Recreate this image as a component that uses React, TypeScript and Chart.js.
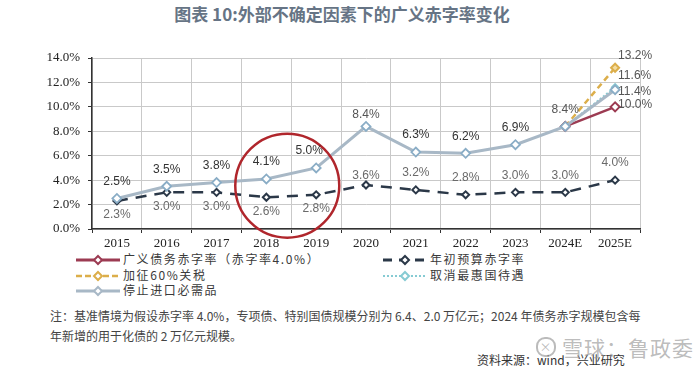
import React, { useEffect, useRef } from "react";
import { Chart, registerables } from "chart.js";

Chart.register(...registerables);

const categories = ["2015", "2016", "2017", "2018", "2019", "2020", "2021", "2022", "2023", "2024E", "2025E"];
const stopImports = [2.5, 3.5, 3.8, 4.1, 5.0, 8.4, 6.3, 6.2, 6.9, 8.4, 11.4];
const budgetDeficit = [2.3, 3.0, 3.0, 2.6, 2.8, 3.6, 3.2, 2.8, 3.0, 3.0, 4.0];
const broadDeficit = [null, null, null, null, null, null, null, null, null, 8.4, 10.0];
const tariff60 = [null, null, null, null, null, null, null, null, null, 8.4, 13.2];
const cancelMFN = [null, null, null, null, null, null, null, null, null, 8.4, 11.6];
const yTicks = [0, 2, 4, 6, 8, 10, 12, 14];

const seriesNames = ["广义债务赤字率（赤字率4.0%）", "年初预算赤字率", "加征60%关税", "取消最惠国待遇", "停止进口必需品"];

const C_RED = "#9c3b52";
const C_DARK = "#2b3848";
const C_GOLD = "#dcae4a";
const C_TEAL = "#86cbd3";
const C_GRAY = "#a8b8c6";
const C_GRAY_PT = "#8aadc6";

const fmt = (v: number) => v.toFixed(1) + "%";

const labelPlugin = {
  id: "valueLabels",
  afterDatasetsDraw(chart: any) {
    const ctx = chart.ctx;
    const x = chart.scales.x;
    const y = chart.scales.y;
    const last = categories.length - 1;
    ctx.save();
    // red circle annotation around 2018-2019
    const cx = (x.getPixelForValue(3) + x.getPixelForValue(4)) / 2 - 4;
    const cy = y.getPixelForValue(3.55);
    ctx.beginPath();
    ctx.arc(cx, cy, 52, 0, Math.PI * 2);
    ctx.strokeStyle = "#b0262c";
    ctx.lineWidth = 2.5;
    ctx.stroke();

    ctx.font = '12px "Liberation Sans", Arial, sans-serif';
    ctx.textAlign = "center";
    ctx.textBaseline = "middle";
    // stop imports labels (above)
    stopImports.forEach((v, i) => {
      if (i === last) return;
      const px = x.getPixelForValue(i);
      const py = y.getPixelForValue(v);
      ctx.fillStyle = i === 5 || i === 9 ? "#555" : "#333";
      let dx = 0;
      let dy = -17;
      if (i === 4) dx = -7;
      if (i === 5) dy = -12;
      ctx.fillText(fmt(v), px + dx, py + dy);
    });
    // budget deficit labels
    budgetDeficit.forEach((v, i) => {
      const px = x.getPixelForValue(i);
      const py = y.getPixelForValue(v);
      ctx.fillStyle = "#6a6a6a";
      let dy = i < 5 ? 14 : -17;
      if (i === 5) dy = -9;
      ctx.fillText(fmt(v), px, py + dy);
    });
    // scenario labels at 2025E
    ctx.textAlign = "left";
    ctx.fillStyle = "#555";
    const px = x.getPixelForValue(last);
    const items: [number, number][] = [
      [tariff60[last] as number, -12],
      [cancelMFN[last] as number, -12],
      [stopImports[last], 2],
      [broadDeficit[last] as number, -2],
    ];
    items.forEach(([v, dy]) => {
      ctx.fillText(fmt(v), px + 3, y.getPixelForValue(v) + dy);
    });
    ctx.restore();
  },
};

function LegendIcon({ color, dash, width }: { color: string; dash?: string; width: number }) {
  return (
    <svg width={44} height={12} style={{ display: "block" }}>
      <line x1={0} y1={6} x2={44} y2={6} stroke={color} strokeWidth={width} strokeDasharray={dash} />
      <polygon points="22,2 26,6 22,10 18,6" fill="#fff" stroke={color} strokeWidth={2} />
    </svg>
  );
}

export default function App() {
  const ref = useRef<HTMLCanvasElement | null>(null);

  useEffect(() => {
    if (!ref.current) return;
    const chart = new Chart(ref.current, {
      type: "line",
      data: {
        labels: categories,
        datasets: [
          {
            label: seriesNames[4],
            data: stopImports,
            borderColor: C_GRAY,
            borderWidth: 3,
            pointStyle: "rectRot",
            pointRadius: 4.5,
            pointBackgroundColor: "#ffffff",
            pointBorderColor: C_GRAY_PT,
            pointBorderWidth: 1.8,
            order: 0,
          },
          {
            label: seriesNames[0],
            data: broadDeficit,
            borderColor: C_RED,
            borderWidth: 2.5,
            pointStyle: "rectRot",
            pointRadius: 4.5,
            pointBackgroundColor: "#ffffff",
            pointBorderColor: C_RED,
            pointBorderWidth: 2,
            order: 1,
          },
          {
            label: seriesNames[3],
            data: cancelMFN,
            borderColor: C_TEAL,
            borderWidth: 2,
            borderDash: [2, 2],
            pointStyle: "rectRot",
            pointRadius: 3.5,
            pointBackgroundColor: "#ffffff",
            pointBorderColor: C_TEAL,
            pointBorderWidth: 1.5,
            order: 2,
          },
          {
            label: seriesNames[2],
            data: tariff60,
            borderColor: C_GOLD,
            borderWidth: 2.5,
            borderDash: [6, 4],
            pointStyle: "rectRot",
            pointRadius: 4,
            pointBackgroundColor: "#f3dca0",
            pointBorderColor: C_GOLD,
            pointBorderWidth: 2,
            order: 3,
          },
          {
            label: seriesNames[1],
            data: budgetDeficit,
            borderColor: C_DARK,
            borderWidth: 2.5,
            borderDash: [11, 8],
            pointStyle: "rectRot",
            pointRadius: 3.5,
            pointBackgroundColor: "#ffffff",
            pointBorderColor: C_DARK,
            pointBorderWidth: 2,
            order: 4,
          },
        ],
      },
      options: {
        responsive: false,
        animation: false,
        spanGaps: false,
        layout: { padding: { left: 0, right: 60, top: 18, bottom: 0 } },
        plugins: {
          legend: { display: false },
          tooltip: { enabled: false },
          title: { display: false },
        },
        scales: {
          x: {
            type: "category",
            offset: true,
            grid: {
              offset: true,
              color: "#c9c9c9",
              lineWidth: 1,
              drawTicks: true,
              tickLength: 4,
              tickColor: "#333",
            },
            border: { color: "#333", width: 1.5 },
            ticks: {
              color: "#222",
              font: { family: '"Liberation Serif", serif', size: 13 },
              padding: 3,
              maxRotation: 0,
              autoSkip: false,
            },
            afterFit: (s: any) => {
              s.height = 21;
            },
          },
          y: {
            min: 0,
            max: 14,
            afterBuildTicks: (s: any) => {
              s.ticks = yTicks.map((v) => ({ value: v }));
            },
            grid: {
              color: "#c9c9c9",
              lineWidth: 1,
              drawTicks: true,
              tickLength: 4,
              tickColor: "#333",
            },
            border: { color: "#333", width: 1.5 },
            ticks: {
              color: "#222",
              font: { family: '"Liberation Serif", serif', size: 13 },
              padding: 8,
              callback: (v: any) => Number(v).toFixed(1) + "%",
            },
            afterFit: (s: any) => {
              s.width = 92;
            },
          },
        },
      },
      plugins: [labelPlugin],
    } as any);
    return () => chart.destroy();
  }, []);

  const legendText: React.CSSProperties = {
    position: "absolute",
    fontFamily: '"Noto Sans CJK SC", sans-serif',
    fontSize: 12,
    letterSpacing: "1.6px",
    color: "#3a3a3a",
    lineHeight: "14px",
    whiteSpace: "nowrap",
  };

  const legendItems = [
    { name: seriesNames[0], color: C_RED, dash: undefined, w: 3, x: 76, y: 260 },
    { name: seriesNames[1], color: C_DARK, dash: "9 7", w: 3, x: 383, y: 260 },
    { name: seriesNames[2], color: C_GOLD, dash: "6 3", w: 2.5, x: 76, y: 276 },
    { name: seriesNames[3], color: C_TEAL, dash: "2 2", w: 2, x: 383, y: 276 },
    { name: seriesNames[4], color: C_GRAY, dash: undefined, w: 3, x: 76, y: 291 },
  ];

  return (
    <div
      style={{
        position: "fixed",
        left: 0,
        top: 0,
        width: 700,
        height: 369,
        background: "#fff",
        overflow: "hidden",
      }}
    >
      <div
        style={{
          position: "absolute",
          left: 0,
          top: 3,
          width: 684,
          textAlign: "center",
          fontFamily: '"Noto Sans CJK SC", sans-serif',
          fontWeight: 600,
          fontSize: 17,
          lineHeight: "22px",
          color: "#667485",
        }}
      >
        图表 10:外部不确定因素下的广义赤字率变化
      </div>
      <canvas
        ref={ref}
        width={700}
        height={210}
        style={{ position: "absolute", left: 0, top: 40, width: 700, height: 210 }}
      />
      {legendItems.map((it, i) => (
        <React.Fragment key={i}>
          <div style={{ position: "absolute", left: it.x, top: it.y - 6 }}>
            <LegendIcon color={it.color} dash={it.dash} width={it.w} />
          </div>
          <div style={{ ...legendText, left: it.x + 47, top: it.y - 8 }}>{it.name}</div>
        </React.Fragment>
      ))}
      <div
        style={{
          position: "absolute",
          left: 50,
          top: 306,
          fontFamily: '"Noto Sans CJK SC", sans-serif',
          fontSize: 12,
          lineHeight: "20px",
          color: "#444",
          whiteSpace: "nowrap",
        }}
      >
        注：基准情境为假设赤字率 4.0%，专项债、特别国债规模分别为 6.4、2.0 万亿元；2024 年债务赤字规模包含每
        <br />
        年新增的用于化债的 2 万亿元规模。
      </div>
      <div
        style={{
          position: "absolute",
          left: 477,
          top: 351,
          fontFamily: '"Noto Sans CJK SC", sans-serif',
          fontSize: 12,
          lineHeight: "18px",
          color: "#333",
          whiteSpace: "nowrap",
        }}
      >
        资料来源：wind，兴业研究
      </div>
      <div
        style={{
          position: "absolute",
          left: 536,
          top: 334,
          display: "flex",
          alignItems: "center",
          fontFamily: '"Noto Sans CJK SC", sans-serif',
          fontSize: 21,
          lineHeight: "26px",
          color: "rgba(150,150,150,0.65)",
          whiteSpace: "nowrap",
          letterSpacing: "1px",
        }}
      >
        <span
          style={{
            display: "inline-block",
            width: 16,
            height: 16,
            borderRadius: 9,
            border: "2px solid rgba(150,150,150,0.65)",
            marginRight: 6,
            fontSize: 12,
            lineHeight: "16px",
            textAlign: "center",
          }}
        >
          ×
        </span>
        雪球：鲁政委
      </div>
    </div>
  );
}
